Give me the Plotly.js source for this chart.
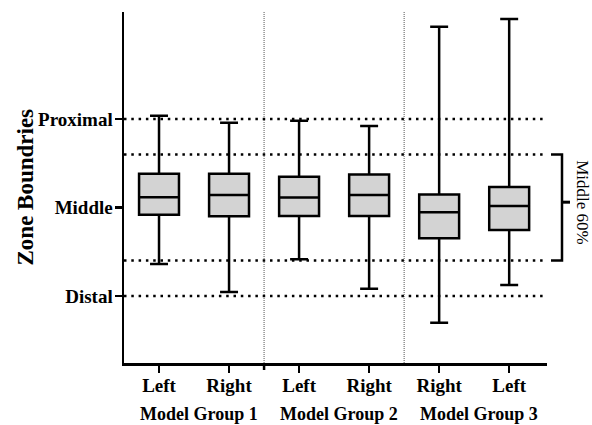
<!DOCTYPE html>
<html>
<head>
<meta charset="utf-8">
<script src="https://cdn.plot.ly/plotly-3.0.1.min.js"></script>
<style>html,body{margin:0;padding:0;background:#fff;}#chart{width:592px;height:425px;}</style>
</head>
<body>
<div id="chart"></div>
<script>
// Data
var positions = [0, 1, 2, 3, 4, 5];
var sideLabels = ["Left", "Right", "Left", "Right", "Right", "Left"];
var groupNames = ["Model Group 1", "Model Group 2", "Model Group 3"];
var groupCenters = [0.5, 2.5, 4.5];
var lowerWhisker = [0.181, 0.023, 0.207, 0.040, -0.151, 0.062];
var q1Values     = [0.459, 0.450, 0.452, 0.452, 0.326, 0.373];
var medianValues = [0.558, 0.571, 0.556, 0.571, 0.473, 0.508];
var q3Values     = [0.691, 0.691, 0.674, 0.687, 0.574, 0.616];
var upperWhisker = [1.019, 0.979, 0.990, 0.960, 1.522, 1.565];
var zoneTickVals = [0, 0.5, 1];
var zoneTickText = ["Distal", "Middle", "Proximal"];
var zoneLines = [1, 0.8, 0.2, 0];
var middle60 = [0.2, 0.8];
var groupSeparators = [1.5, 3.5];

var xRange = [-0.5, 5.54];
var yRange = [-0.379, 1.605];
function xp(v) { return (v - xRange[0]) / (xRange[1] - xRange[0]); }
function yp(v) { return (v - yRange[0]) / (yRange[1] - yRange[0]); }

var serif = "Liberation Serif, Times New Roman, serif";

var trace = {
  type: "box",
  x: positions,
  q1: q1Values,
  median: medianValues,
  q3: q3Values,
  lowerfence: lowerWhisker,
  upperfence: upperWhisker,
  width: 0.57,
  whiskerwidth: 0.45,
  fillcolor: "#d3d3d3",
  line: { color: "#000", width: 2.5 },
  boxpoints: false,
  hoverinfo: "skip",
  showlegend: false
};

var shapes = [];
zoneLines.forEach(function (v) {
  shapes.push({
    type: "line", xref: "x", yref: "y",
    x0: xRange[0], x1: 5.49, y0: v, y1: v,
    line: { color: "#000", width: 2.5, dash: "2.5px,4.8px" },
    layer: "below"
  });
});
groupSeparators.forEach(function (s) {
  shapes.push({
    type: "line", xref: "paper", yref: "paper",
    x0: xp(s), x1: xp(s), y0: 0, y1: 1,
    line: { color: "#555", width: 1, dash: "1px,1px" },
    layer: "below"
  });
});
// tick mark under first separator
shapes.push({
  type: "line", xref: "paper", yref: "paper",
  x0: xp(groupSeparators[0]), x1: xp(groupSeparators[0]), y0: 0, y1: -7 / 351,
  line: { color: "#000", width: 2.5 }
});
// bracket for middle 60%
var bx0 = (551 - 124) / 423, bx1 = (562 - 124) / 423, bx2 = (570 - 124) / 423;
var midB = (middle60[0] + middle60[1]) / 2 + 0.03;
shapes.push({
  type: "path", xref: "paper", yref: "paper",
  path: "M" + bx0 + "," + yp(middle60[1]) + " L" + bx1 + "," + yp(middle60[1]) +
        " L" + bx1 + "," + yp(middle60[0]) + " L" + bx0 + "," + yp(middle60[0]),
  line: { color: "#000", width: 2.5 }
});
shapes.push({
  type: "line", xref: "paper", yref: "paper",
  x0: bx1, x1: bx2, y0: yp(midB), y1: yp(midB),
  line: { color: "#000", width: 3 }
});

var annotations = [];
groupNames.forEach(function (g, i) {
  annotations.push({
    text: "<b>" + g + "</b>", xref: "x", yref: "paper",
    x: groupCenters[i] + 0.07, y: -51 / 351, yanchor: "middle", xanchor: "center",
    showarrow: false, font: { family: serif, size: 18, color: "#000" }
  });
});
annotations.push({
  text: "Middle 60%", xref: "paper", yref: "paper",
  x: (583 - 124) / 423, y: yp(midB), textangle: 90,
  xanchor: "center", yanchor: "middle", showarrow: false,
  font: { family: serif, size: 17, color: "#000" }
});
annotations.push({
  text: "<b>Zone Boundries</b>", xref: "paper", yref: "paper",
  x: (25 - 124) / 423, y: 0.5, textangle: -90,
  xanchor: "center", yanchor: "middle", showarrow: false,
  font: { family: serif, size: 23, color: "#000" }
});

var layout = {
  width: 592, height: 425,
  margin: { l: 124, r: 45, t: 12, b: 62 },
  paper_bgcolor: "#fff", plot_bgcolor: "#fff",
  showlegend: false,
  xaxis: {
    range: xRange, tickvals: positions, ticktext: sideLabels,
    showgrid: false, zeroline: false, showline: true, linecolor: "#000", linewidth: 2.5,
    ticks: "outside", ticklen: 7, tickwidth: 2.5, tickcolor: "#000", ticklabelstandoff: -3,
    tickfont: { family: serif, size: 19, color: "#000", weight: "bold" }
  },
  yaxis: {
    range: yRange, tickvals: zoneTickVals, ticktext: zoneTickText,
    showgrid: false, zeroline: false, showline: true, linecolor: "#000", linewidth: 2.5,
    ticks: "outside", ticklen: 7, tickwidth: 2.5, tickcolor: "#000", ticklabelstandoff: -2,
    tickfont: { family: serif, size: 19, color: "#000", weight: "bold" }
  },
  shapes: shapes,
  annotations: annotations
};

Plotly.newPlot("chart", [trace], layout, { staticPlot: true, displayModeBar: false });
</script>
</body>
</html>
